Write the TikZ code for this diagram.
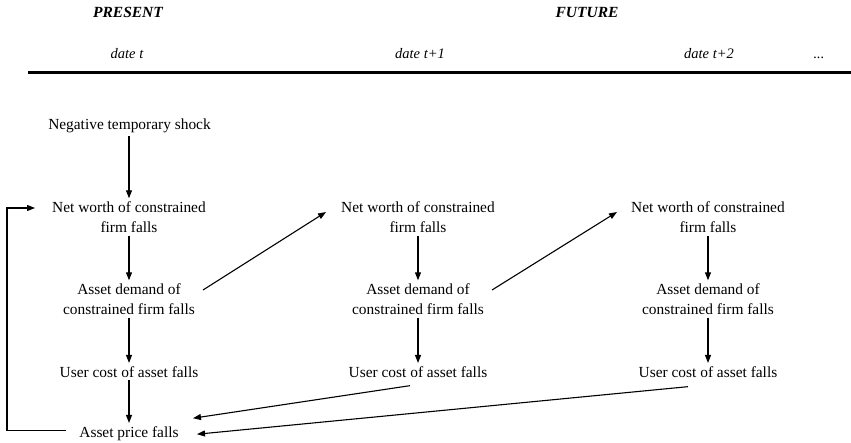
\documentclass[tikz,border=0pt]{standalone}
\usepackage{fontspec}
\setmainfont{Liberation Serif}
\usetikzlibrary{arrows.meta,calc}
\begin{document}
\begin{tikzpicture}[x=1pt,y=-1pt,
  box/.style={inner sep=3pt, align=center, font=\fontsize{15.4}{20}\selectfont},
  hdr/.style={inner sep=0pt, anchor=base, font=\fontsize{15.5}{18}\selectfont\bfseries\itshape},
  datelbl/.style={inner sep=0pt, anchor=base, font=\fontsize{14.5}{17}\selectfont\itshape},
  arr/.style={line width=1.1pt, -{Triangle[length=8pt,width=6pt]}},
]
\useasboundingbox (0,0) rectangle (851,442);
% header
\node[hdr] (present) at (128,17) {PRESENT};
\node[hdr] (future) at (587,17) {FUTURE};
\node[datelbl] (d0) at (127,58) {date t};
\node[datelbl] (d1) at (420,58) {date t+1};
\node[datelbl] (d2) at (709,58) {date t+2};
\node[datelbl] (dots) at (819,58) {...};
\coordinate (ruleL) at (28,72.5);
\coordinate (ruleR) at (851,72.5);
\draw[line width=3pt] (ruleL) -- (ruleR);
% column 1
\node[box, anchor=base] (shock) at (129.5,129.5) {Negative temporary shock};
\node[box] (nw1) at (129,217) {Net worth of constrained\\firm falls};
\node[box] (ad1) at (129,299) {Asset demand of\\constrained firm falls};
\node[box, anchor=base] (uc1) at (129,377) {User cost of asset falls};
\node[box, anchor=base] (pr) at (129,437) {Asset price falls};
% column 2
\node[box] (nw2) at (418,217) {Net worth of constrained\\firm falls};
\node[box] (ad2) at (418,299) {Asset demand of\\constrained firm falls};
\node[box, anchor=base] (uc2) at (418,377) {User cost of asset falls};
% column 3
\node[box] (nw3) at (708,217) {Net worth of constrained\\firm falls};
\node[box] (ad3) at (708,299) {Asset demand of\\constrained firm falls};
\node[box, anchor=base] (uc3) at (708,377) {User cost of asset falls};
% vertical arrows
\draw[arr] (shock.south -| nw1.north) -- (nw1.north);
\draw[arr] (nw1.south) -- (ad1.north);
\draw[arr] (ad1.south) -- (uc1.north);
\draw[arr] (uc1.south) -- (pr.north);
\draw[arr] (nw2.south) -- (ad2.north);
\draw[arr] (ad2.south) -- (uc2.north);
\draw[arr] (nw3.south) -- (ad3.north);
\draw[arr] (ad3.south) -- (uc3.north);
% feedback loop
\coordinate (lt) at (7,208);
\draw[arr] ([shift={(-10pt,3pt)}]pr.west) -| (lt) -- ([shift={(-14pt,9pt)}]nw1.west);
% diagonals
\draw[arr] ($(ad1)+(74,-9)$) -- ($(nw2)+(-92,-5)$);
\draw[arr] ($(ad2)+(74,-9)$) -- ($(nw3)+(-91,-5)$);
% back to asset price
\draw[arr] ($(uc2)+(-8,14)$) -- ($(pr)+(64,-15)$);
\draw[arr] ($(uc3)+(-20,15)$) -- ($(pr)+(68,1)$);
\end{tikzpicture}
\end{document}
